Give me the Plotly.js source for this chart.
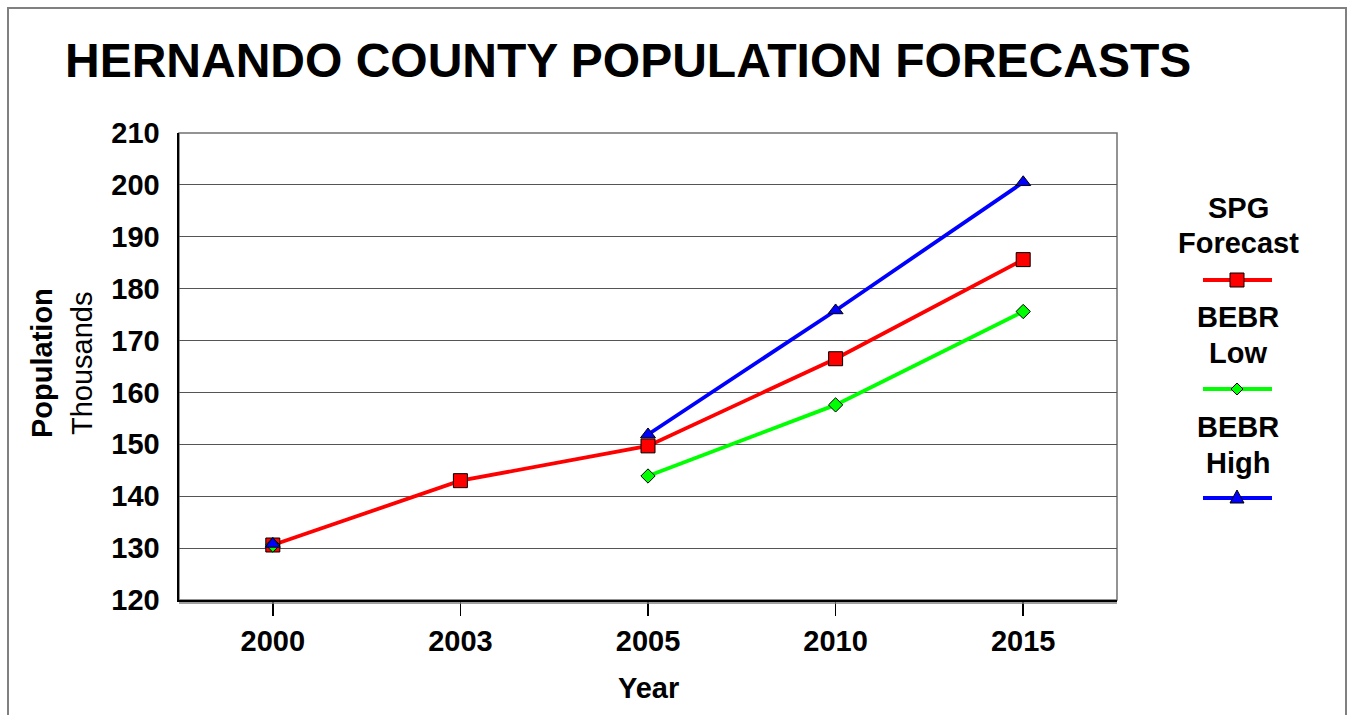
<!DOCTYPE html>
<html>
<head>
<meta charset="utf-8">
<script src="https://cdn.plot.ly/plotly-3.0.1.min.js"></script>
<style>html,body{margin:0;padding:0;background:#fff;}#chart{width:1352px;height:715px;}</style>
</head>
<body>
<div id="chart"></div>
<script>
// ---- data ----
const years = ["2000", "2003", "2005", "2010", "2015"];
const spgForecast = [130.6, 143.0, 149.7, 166.5, 185.6];
const bebrLow = [130.6, null, 143.9, 157.6, 175.6];
const bebrHigh = [130.8, null, 151.9, 175.8, 200.5];
const seriesNames = ["SPG<br>Forecast", "BEBR<br>Low", "BEBR<br>High"];
const yTicks = [120, 130, 140, 150, 160, 170, 180, 190, 200, 210];

// ---- layout helpers (pixel -> paper) ----
const W = 1352, H = 715;
const M = {l: 179, r: 235, t: 133, b: 115};
const PW = W - M.l - M.r, PH = H - M.t - M.b;
const px = x => (x - M.l) / PW;
const py = y => (M.t + PH - y) / PH;

const FONT = "Liberation Sans, Arial, Helvetica, sans-serif";

const traces = [
  {x: years, y: spgForecast, name: "SPG Forecast", type: "scatter", mode: "lines+markers",
   line: {color: "#ff0000", width: 3.8},
   marker: {symbol: "square", size: 14, color: "#ff0000", line: {color: "#000", width: 1}}},
  {x: years, y: bebrLow, name: "BEBR Low", type: "scatter", mode: "lines+markers", connectgaps: false,
   line: {color: "#00ff00", width: 3.8},
   marker: {symbol: "diamond", size: 11, color: "#00ff00", line: {color: "#000", width: 1}}},
  {x: years, y: bebrHigh, name: "BEBR High", type: "scatter", mode: "lines+markers", connectgaps: false,
   line: {color: "#0000ff", width: 3.8},
   marker: {symbol: "triangle-up", size: 13, color: "#0000ff", line: {color: "#000", width: 1}}}
];

// custom legend (text above sample line)
const legendColors = ["#ff0000", "#00ff00", "#0000ff"];
const legendTextY = [[208, 243], [317, 353], [427, 463]];
const legendLineY = [280, 389, 498];
const legendCx = 1238;

const annotations = [];
const shapes = [];

// outer border
shapes.push({type: "rect", xref: "paper", yref: "paper",
  x0: px(8), x1: px(1346), y0: py(725), y1: py(8),
  line: {color: "#808080", width: 2}, layer: "below"});
// plot frame
shapes.push({type: "rect", xref: "paper", yref: "paper", x0: 0, x1: 1, y0: 0, y1: 1,
  line: {color: "#707070", width: 1.5}, layer: "below"});
// second bottom line (double axis line)
shapes.push({type: "line", xref: "paper", yref: "paper", x0: 0, x1: 1, y0: py(603), y1: py(603),
  line: {color: "#808080", width: 1.5}});

seriesNames.forEach((nm, i) => {
  const parts = nm.split("<br>");
  parts.forEach((p, j) => {
    annotations.push({xref: "paper", yref: "paper", x: px(legendCx), y: py(legendTextY[i][j]),
      text: p, showarrow: false, xanchor: "center", yanchor: "middle",
      font: {family: FONT, size: 29, color: "#000", weight: "bold"}});
  });
  shapes.push({type: "line", xref: "paper", yref: "paper",
    x0: px(1203), x1: px(1272), y0: py(legendLineY[i]), y1: py(legendLineY[i]),
    line: {color: legendColors[i], width: 3.8}});
});
// legend markers
const ax = px(1237);
shapes.push({type: "rect", xref: "paper", yref: "paper", xsizemode: "pixel", ysizemode: "pixel",
  xanchor: ax, yanchor: py(legendLineY[0]), x0: -7, x1: 7, y0: -7, y1: 7,
  fillcolor: "#ff0000", line: {color: "#000", width: 1}});
shapes.push({type: "path", xref: "paper", yref: "paper", xsizemode: "pixel", ysizemode: "pixel",
  xanchor: ax, yanchor: py(legendLineY[1]), path: "M -6 0 L 0 6 L 6 0 L 0 -6 Z",
  fillcolor: "#00ff00", line: {color: "#000", width: 1}});
shapes.push({type: "path", xref: "paper", yref: "paper", xsizemode: "pixel", ysizemode: "pixel",
  xanchor: ax, yanchor: py(legendLineY[2]), path: "M -7 -5 L 7 -5 L 0 8 Z",
  fillcolor: "#0000ff", line: {color: "#000", width: 1}});

// y-axis title (two lines)
annotations.push({xref: "paper", yref: "paper", x: px(42), y: py(363), text: "Population",
  textangle: -90, showarrow: false, xanchor: "center", yanchor: "middle",
  font: {family: FONT, size: 29, color: "#000", weight: "bold"}});
annotations.push({xref: "paper", yref: "paper", x: px(82), y: py(363), text: "Thousands",
  textangle: -90, showarrow: false, xanchor: "center", yanchor: "middle",
  font: {family: FONT, size: 29, color: "#000"}});
// x-axis title
annotations.push({xref: "paper", yref: "paper", x: px(648), y: py(688), text: "Year",
  showarrow: false, xanchor: "center", yanchor: "middle",
  font: {family: FONT, size: 29, color: "#000", weight: "bold"}});

const layout = {
  width: W, height: H,
  margin: M,
  paper_bgcolor: "#fff", plot_bgcolor: "#fff",
  showlegend: false,
  font: {family: FONT, color: "#000"},
  title: {text: "HERNANDO COUNTY POPULATION FORECASTS",
    font: {family: FONT, size: 48, color: "#000", weight: "bold"},
    xref: "container", x: 65 / W, xanchor: "left",
    yref: "container", y: 1 - 60 / H, yanchor: "middle"},
  xaxis: {type: "category", range: [-0.5, 4.5], fixedrange: true,
    showgrid: false, zeroline: false,
    showline: true, linecolor: "#000", linewidth: 2,
    ticks: "outside", ticklen: 14, tickwidth: 1.5, tickcolor: "#000",
    tickfont: {family: FONT, size: 29, color: "#000", weight: "bold"},
    ticklabelstandoff: 0},
  yaxis: {range: [120, 210], tickvals: yTicks, ticktext: yTicks.map(String), fixedrange: true,
    showgrid: true, gridcolor: "#555", gridwidth: 1.2, zeroline: false,
    showline: true, linecolor: "#000", linewidth: 2.5,
    ticks: "", tickfont: {family: FONT, size: 29, color: "#000", weight: "bold"},
    ticklabelstandoff: 11},
  shapes: shapes,
  annotations: annotations
};

Plotly.newPlot("chart", traces, layout, {displayModeBar: false, staticPlot: true});
</script>
</body>
</html>
